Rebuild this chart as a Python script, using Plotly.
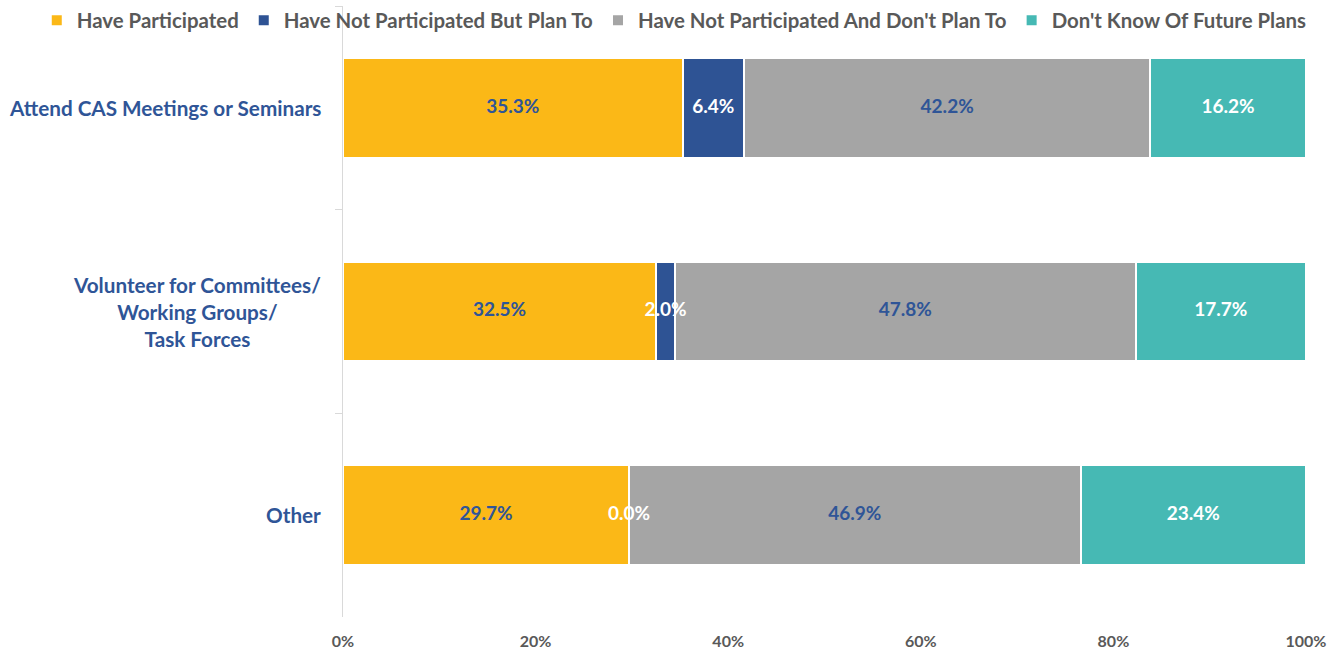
import plotly.graph_objects as go

# Survey responses (percent of respondents) per activity
categories = [
    "Attend CAS Meetings or Seminars",
    "Volunteer for Committees/<br>Working Groups/<br>Task Forces",
    "Other",
]
series_names = [
    "Have Participated",
    "Have Not Participated But Plan To",
    "Have Not Participated And Don't Plan To",
    "Don't Know Of Future Plans",
]
have_participated = [35.3, 32.5, 29.7]
plan_to = [6.4, 2.0, 0.0]
dont_plan_to = [42.2, 47.8, 46.9]
dont_know = [16.2, 17.7, 23.4]
x_ticks = [0, 20, 40, 60, 80, 100]
x_tick_labels = [f"{t}%" for t in x_ticks]

series_values = [have_participated, plan_to, dont_plan_to, dont_know]
colors = ["#FBB817", "#2E5394", "#A5A5A5", "#46B9B4"]
label_colors = ["#2F5597", "#FFFFFF", "#2F5597", "#FFFFFF"]

FONT = "Lato"
BLUE_TEXT = "#2F5597"
GREY_TEXT = "#595959"

fig = go.Figure()
for name, vals, col in zip(series_names, series_values, colors):
    fig.add_trace(go.Bar(
        y=categories, x=vals, name=name, orientation="h",
        marker=dict(color=col, line=dict(color="white", width=2)),
        hoverinfo="x+name",
    ))

# Value labels centred on each segment (stack normalised to 100%)
for i, cat in enumerate(categories):
    total = sum(s[i] for s in series_values)
    start = 0.0
    for vals, lc in zip(series_values, label_colors):
        v = vals[i]
        w = v / total * 100
        fig.add_trace(go.Scatter(
            x=[start + w / 2], y=[cat], mode="text",
            text=[f"{v:.1f}%"],
            textfont=dict(family=FONT, size=19, color=lc, weight="bold"),
            showlegend=False, hoverinfo="skip",
        ))
        start += w

# Category labels: right-aligned block, lines centred on each other
for cat in categories:
    fig.add_annotation(
        x=0, xref="paper", y=cat, yref="y",
        text=cat, showarrow=False,
        xanchor="right", xshift=-20, align="center",
        font=dict(family=FONT, size=20.7, color=BLUE_TEXT, weight="bold"),
    )

fig.update_layout(
    barmode="stack",
    barnorm="percent",
    bargap=0.51,
    width=1342, height=650,
    margin=dict(l=343, r=36, t=6, b=33, autoexpand=False),
    plot_bgcolor="white", paper_bgcolor="white",
    font=dict(family=FONT, weight="bold"),
    legend=dict(
        orientation="h", xref="paper", yref="paper",
        x=-0.318, y=1.009, xanchor="left", yanchor="top",
        font=dict(family=FONT, size=20.4, color=GREY_TEXT, weight="bold"),
        bgcolor="rgba(0,0,0,0)", traceorder="normal",
    ),
    xaxis=dict(
        range=[0, 100], tickvals=x_ticks, ticktext=x_tick_labels,
        showgrid=False, zeroline=False, showline=False, automargin=False,
        tickfont=dict(family=FONT, size=16, color=GREY_TEXT, weight="bold"),
        ticklabelstandoff=13,
    ),
    yaxis=dict(
        type="category", categoryorder="array", categoryarray=categories,
        autorange="reversed", automargin=False,
        showline=True, linecolor="#D9D9D9", linewidth=1,
        ticks="outside", tickson="boundaries", ticklen=7, tickcolor="#D9D9D9",
        showgrid=False, zeroline=False, showticklabels=False,
    ),
)

fig.write_html("out.html")
